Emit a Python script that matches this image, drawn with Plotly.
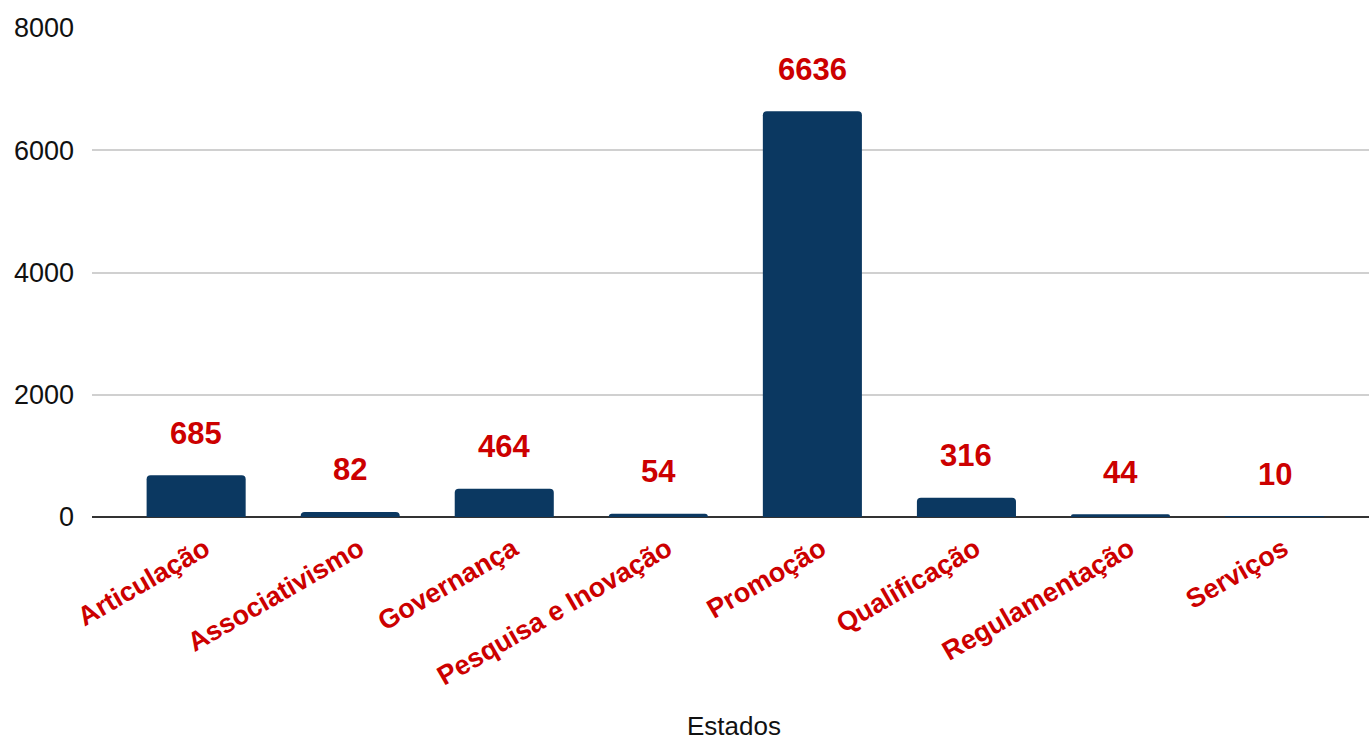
import plotly.graph_objects as go

categories = ["Articulação", "Associativismo", "Governança", "Pesquisa e Inovação",
              "Promoção", "Qualificação", "Regulamentação", "Serviços"]
values = [685, 82, 464, 54, 6636, 316, 44, 10]
y_ticks = [0, 2000, 4000, 6000, 8000]

BAR = "#0b3861"
RED = "#cc0000"
FONT = "Liberation Sans, Arial, sans-serif"

fig = go.Figure()
fig.add_trace(go.Bar(
    x=list(range(len(categories))), y=values,
    marker=dict(color=BAR, cornerradius=4, line=dict(width=0)),
    width=0.643, hoverinfo="skip",
))

for i, v in enumerate(values):
    fig.add_annotation(x=i, y=v, xref="x", yref="y", text=f"<b>{v}</b>",
                       showarrow=False, yanchor="middle", yshift=42,
                       font=dict(family=FONT, size=31, color=RED))

fig.add_annotation(x=0.503, y=(744 - 743 - 227) / 489.0, xref="paper", yref="paper",
                   text="Estados", showarrow=False, yanchor="bottom",
                   font=dict(family=FONT, size=26, color="#111"))

fig.update_layout(
    width=1369, height=744,
    margin=dict(l=92, r=0, t=28, b=227, autoexpand=False),
    plot_bgcolor="white", paper_bgcolor="white",
    showlegend=False,
    xaxis=dict(
        range=[-0.676, 7.613],
        tickmode="array", tickvals=list(range(len(categories))),
        ticktext=[f"<b>{c}</b>" for c in categories],
        tickangle=-30, tickfont=dict(family=FONT, size=27, color=RED),
        ticklabelshift=9, ticklabelstandoff=10,
        showgrid=False, zeroline=False, showline=False, ticks="",
    ),
    yaxis=dict(
        range=[0, 8000], tickmode="array", tickvals=y_ticks,
        ticktext=[str(t) for t in y_ticks],
        tickfont=dict(family=FONT, size=27, color="#111"),
        showgrid=True, gridcolor="#d0d0d0", gridwidth=2,
        zeroline=True, zerolinecolor="#333333", zerolinewidth=2,
        showline=False, ticks="", ticklabelstandoff=17,
    ),
)

fig.write_html("out.html")
